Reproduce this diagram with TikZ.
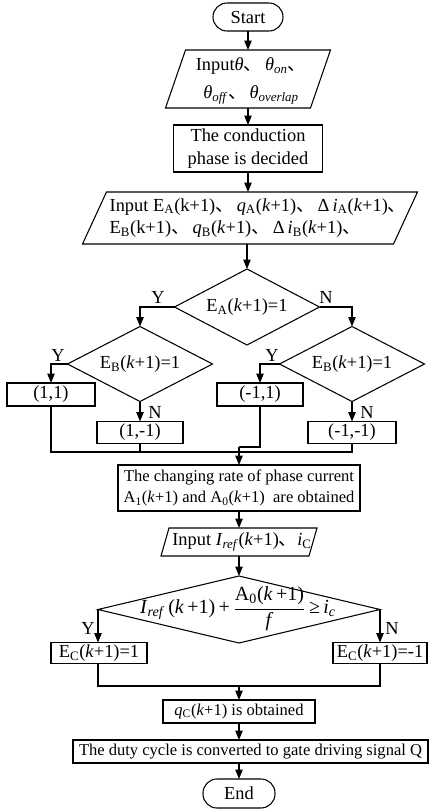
\documentclass[tikz,border=0pt]{standalone}
\usepackage{fontspec}
\usepackage{amsmath}
\setmainfont{Liberation Serif}
\newfontfamily\cjk{Noto Sans CJK SC}
\usetikzlibrary{arrows.meta,calc,shapes.geometric}
% ideographic comma used between the listed quantities
\newcommand\dun{{\cjk 、}}
% lengths are given in picture units (0.75pt each)
\newcommand\pxl[1]{#1*0.75pt}
\newcommand\sbs[1]{\textsubscript{#1}}
\begin{document}
\begin{tikzpicture}[x=0.75pt,y=-0.75pt,
  line width=0.8pt,
  >={Triangle[length=7pt,width=5.5pt]},
  every node/.style={inner sep=0pt, outer sep=0pt},
  big/.style={font=\fontsize{13.8}{17}\selectfont},
  small/.style={font=\fontsize{12.4}{16}\selectfont},
  term/.style={draw, rectangle, rounded corners=\pxl{14}, big},
  box/.style={draw, rectangle, align=center},
  iobody/.style={rectangle},
  dec/.style={draw, diamond, aspect=1.9, big},
  lab/.style={big}
]
\useasboundingbox (0,0) rectangle (430,810);

% start and initial inputs
\node[term, minimum width=\pxl{70}, minimum height=\pxl{28}] (start) at (248,17) {Start};

\node[iobody, minimum width=\pxl{145}, minimum height=\pxl{58}] (in1) at (248,79) {};
\draw ($(in1.north west)+(10,0)$) -- ($(in1.north east)+(10,0)$) -- ($(in1.south east)+(-10,0)$) -- ($(in1.south west)+(-10,0)$) -- cycle;
\node[big, align=center] (in1t) at (251,81) {Input\textit{θ}\dun\,\textit{θ}\sbs{\textit{on}}\dun\\[\pxl{5}]\textit{θ}\sbs{\textit{off}}\dun\,\textit{θ}\sbs{\textit{overlap}}};

\node[box, big, minimum width=\pxl{149}, minimum height=\pxl{47}] (phase) at (248,148.5) {The conduction\\phase is decided};

\node[iobody, minimum width=\pxl{311}, minimum height=\pxl{52}] (in2) at (250,218) {};
\draw ($(in2.north west)+(12,0)$) -- ($(in2.north east)+(12,0)$) -- ($(in2.south east)+(-12,0)$) -- ($(in2.south west)+(-12,0)$) -- cycle;
\node[big, align=left] (in2t) at (258,218) {Input E\sbs{A}(k+1)\dun\,\textit{q}\sbs{A}(\textit{k}+1)\dun\,Δ\,\textit{i}\sbs{A}(\textit{k}+1)\dun\\E\sbs{B}(k+1)\dun\,\textit{q}\sbs{B}(\textit{k}+1)\dun\,Δ\,\textit{i}\sbs{B}(\textit{k}+1)\dun};

% phase decisions
\node[dec, minimum width=\pxl{145}, minimum height=\pxl{76}] (d1) at (247,307) {E\sbs{A}(\textit{k}+1)=1};
\node[dec, minimum width=\pxl{145}, minimum height=\pxl{75}] (d2) at (140,364) {E\sbs{B}(\textit{k}+1)=1};
\node[dec, minimum width=\pxl{145}, minimum height=\pxl{75}] (d3) at (352,364) {E\sbs{B}(\textit{k}+1)=1};

\node[box, big, minimum width=\pxl{88}, minimum height=\pxl{23}] (r11) at (51,394.5) {(1,1)};
\node[box, big, minimum width=\pxl{86}, minimum height=\pxl{22}] (r1m) at (140,432.5) {(1,-1)};
\node[box, big, minimum width=\pxl{86}, minimum height=\pxl{23}] (rm1) at (260,394.5) {(-1,1)};
\node[box, big, minimum width=\pxl{88}, minimum height=\pxl{22}] (rmm) at (352,432.5) {(-1,-1)};

\node[lab] (y1) at (158,297) {Y};
\node[lab] (n1) at (326,297) {N};
\node[lab] (y2) at (58,355) {Y};
\node[lab] (n2) at (155,412) {N};
\node[lab] (y3) at (272,355) {Y};
\node[lab] (n3) at (367,412) {N};

% current reference stage
\node[box, small, minimum width=\pxl{242}, minimum height=\pxl{46}] (rate) at (239,488) {The changing rate of phase current\\A\sbs{1}(\textit{k}+1) and A\sbs{0}(\textit{k}+1)\ \ are obtained};

\node[iobody, minimum width=\pxl{148}, minimum height=\pxl{28}] (in3) at (239,542) {};
\draw ($(in3.north west)+(4,0)$) -- ($(in3.north east)+(4,0)$) -- ($(in3.south east)+(-4,0)$) -- ($(in3.south west)+(-4,0)$) -- cycle;
\node[big] (in3t) at (242,542) {Input \textit{I}\sbs{\textit{ref}}(\textit{k}+1)\dun\textit{i}\sbs{C}};

\node[draw, diamond, minimum width=\pxl{282}, minimum height=\pxl{67}] (d4) at (239,609.5) {};
\node[font=\fontsize{15}{18}\selectfont] (d4t) at (238,609) {\textit{I}\sbs{\textit{ref}}\,(\textit{k}\,+1)\,+\,$\dfrac{\text{A\sbs{0}(\textit{k}\,+1)}}{\text{\textit{f}}}$\,≥\,\textit{i}\sbs{\textit{c}}};

\node[box, big, minimum width=\pxl{96}, minimum height=\pxl{21}] (ec1) at (99,653) {E\sbs{C}(\textit{k}+1)=1};
\node[box, big, minimum width=\pxl{94}, minimum height=\pxl{21}] (ec2) at (380,653) {E\sbs{C}(\textit{k}+1)=-1};

\node[lab] (y4) at (88,628) {Y};
\node[lab] (n4) at (392,628) {N};

\node[box, small, minimum width=\pxl{152}, minimum height=\pxl{23}] (qc) at (239,711.5) {\textit{q}\sbs{C}(\textit{k}+1) is obtained};
\node[box, small, minimum width=\pxl{355}, minimum height=\pxl{23}] (duty) at (250.5,751.5) {The duty cycle is converted to gate driving signal Q};
\node[term, minimum width=\pxl{72}, minimum height=\pxl{29}] (end) at (239,793.5) {End};

% connectors
\coordinate (mg) at (239,452);
\coordinate (jog) at (239,447);
\coordinate (mg2) at (239,686);

\draw[->] (start) -- (in1);
\draw[->] (in1) -- (phase);
\draw[->] (phase.south) -- (phase.south |- in2.north);
\draw[->] (in2.south -| d1.north) -- (d1.north);
\draw[->] (d1.west) -| (d2.north);
\draw[->] (d1.east) -| (d3.north);
\draw[->] (d2.west) -| (r11.north);
\draw[->] (d2.south) -- (r1m.north);
\draw[->] (d3.west) -| (rm1.north);
\draw[->] (d3.south) -- (rmm.north);

\draw (r11.south) |- (rmm.south |- mg) -- (rmm.south);
\draw (r1m.south) -- (r1m.south |- mg);
\draw (rm1.south) |- (jog);
\draw[->] (jog) -- (rate.north);

\draw[->] (rate) -- (in3);
\draw[->] (in3) -- (d4);
\draw[->] (d4.west) -- (d4.west |- ec1.north);
\draw[->] (d4.east) -- (d4.east |- ec2.north);
\draw (ec1.south -| d4.west) |- (ec2.south |- mg2) -- (ec2.south -| d4.east);
\draw[->] (mg2) -- (qc.north);
\draw[->] (qc.south) -- (qc.south |- duty.north);
\draw[->] (duty.south -| end.north) -- (end.north);
\end{tikzpicture}
\end{document}
